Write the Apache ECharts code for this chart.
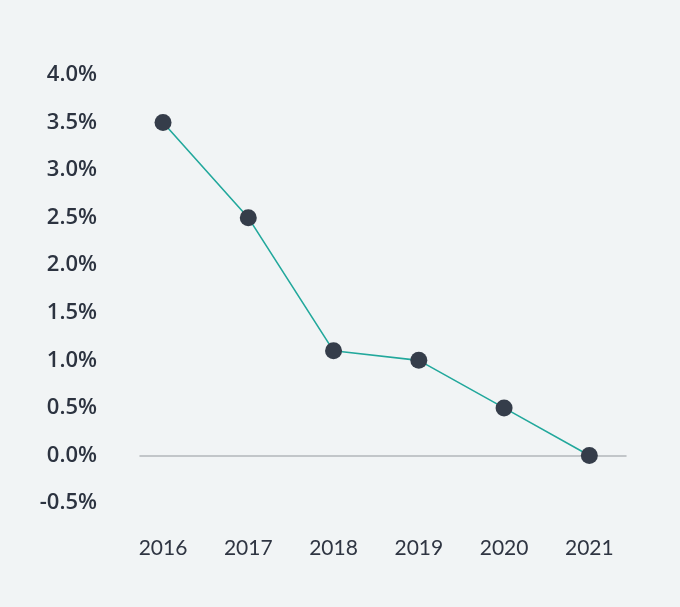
<!DOCTYPE html>
<html>
<head>
<meta charset="utf-8">
<script src="https://cdn.jsdelivr.net/npm/echarts@6/dist/echarts.min.js"></script>
<style>
html,body{margin:0;padding:0;background:#f1f4f5;}
#main{width:680px;height:607px;}
</style>
</head>
<body>
<div id="main"></div>
<script>
const years = [2016, 2017, 2018, 2019, 2020, 2021];
const values = [3.5, 2.5, 1.1, 1.0, 0.5, 0.0];
const yTicks = [-0.5, 0, 0.5, 1, 1.5, 2, 2.5, 3, 3.5, 4];

const chart = echarts.init(document.getElementById('main'));
chart.setOption({
  backgroundColor: '#f1f4f5',
  animation: false,
  grid: { left: 140, right: 54, top: 75, bottom: 104 },
  xAxis: {
    type: 'value',
    min: 2015.73,
    max: 2021.43,
    splitLine: { show: false },
    axisTick: { show: false },
    axisLine: { show: true, onZero: true, lineStyle: { color: '#b3b7ba', width: 1.5 } },
    axisLabel: {
      customValues: years,
      formatter: v => String(v),
      margin: 35,
      color: '#2f3542',
      fontFamily: 'Lato',
      fontSize: 21
    }
  },
  yAxis: {
    type: 'value',
    min: -0.5,
    max: 4,
    interval: 0.5,
    splitLine: { show: false },
    axisTick: { show: false },
    axisLine: { show: false },
    axisLabel: {
      customValues: yTicks,
      formatter: v => v.toFixed(1) + '%',
      margin: 43,
      color: '#2c3340',
      fontFamily: 'Open Sans',
      fontWeight: 600,
      fontSize: 22
    }
  },
  series: [{
    type: 'line',
    data: years.map((y, i) => [y, values[i]]),
    symbol: 'circle',
    symbolSize: 17,
    itemStyle: { color: '#353d4a' },
    lineStyle: { color: '#22a89c', width: 1.6 }
  }]
});
</script>
</body>
</html>
